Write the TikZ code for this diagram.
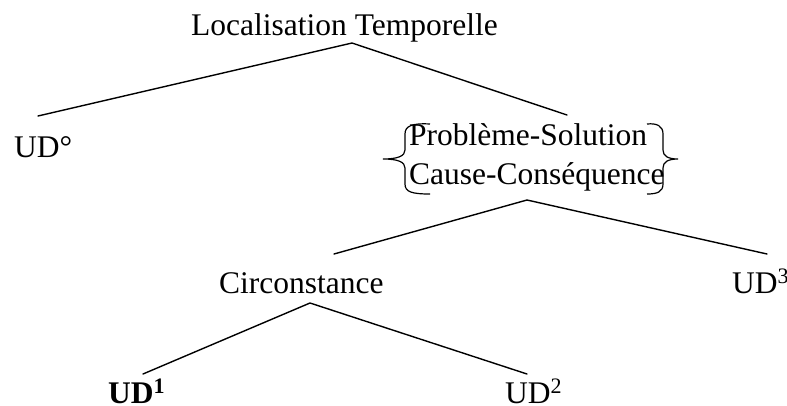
\documentclass[tikz,border=0pt]{standalone}
\usepackage{fontspec}
\setmainfont{Liberation Serif}
\begin{document}
\begin{tikzpicture}[x=1pt,y=-1pt,
  lbl/.style={inner sep=0pt,anchor=base west,font=\fontsize{31.5}{38}\selectfont},
  branch/.style={line width=1.4pt,line cap=round,line join=miter},
  bracestroke/.style={line width=1.2pt}]
\useasboundingbox (0,0) rectangle (787,405);
% labels
\node[lbl] (title) at (191,35) {Localisation Temporelle};
\node[lbl] (ud0) at (14,157) {UD°};
\node[lbl] (ps) at (409,145) {Problème-Solution};
\node[lbl] (cc) at (409,184) {Cause-Conséquence};
\node[lbl] (circ) at (219,293) {Circonstance};
\node[lbl] (ud3) at (732,293) {UD\textsuperscript{3}};
\node[lbl] (ud1) at (108,403) {\textbf{UD\textsuperscript{1}}};
\node[lbl] (ud2) at (505,403) {UD\textsuperscript{2}};
% connector points
\coordinate (titleapex) at (352,43);
\coordinate (ud0top) at (38,116);
\coordinate (pstop) at (567,115);
\coordinate (ccapex) at (527,200);
\coordinate (circtop) at (334,254);
\coordinate (ud3top) at (767,254);
\coordinate (circapex) at (310,303);
\coordinate (ud1top) at (143,374);
\coordinate (ud2top) at (527,374);
% connectors
\draw[branch] (ud0top) -- (titleapex) -- (pstop);
\draw[branch] (circtop) -- (ccapex) -- (ud3top);
\draw[branch] (ud1top) -- (circapex) -- (ud2top);
% braces
\draw[bracestroke] (430,124) .. controls (412,123) and (405,126) .. (405,134)
  -- (405,150) .. controls (405,156) and (398,159) .. (383,159)
  .. controls (398,159) and (405,162) .. (405,168)
  -- (405,184) .. controls (405,192) and (412,194) .. (430,194);
\draw[bracestroke] (647,124) .. controls (657,123) and (663,126) .. (663,134)
  -- (663,150) .. controls (663,156) and (668,159) .. (678,159)
  .. controls (668,159) and (663,162) .. (663,168)
  -- (663,184) .. controls (663,192) and (657,194) .. (647,194);
\end{tikzpicture}
\end{document}
